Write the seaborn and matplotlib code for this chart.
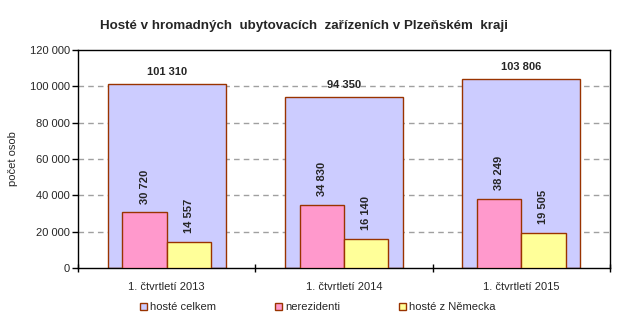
import matplotlib
matplotlib.use("Agg")
import matplotlib.pyplot as plt
import seaborn as sns
import pandas as pd
from matplotlib.patches import Patch
from matplotlib.ticker import FuncFormatter, FixedLocator

categories = ["1. čtvrtletí 2013", "1. čtvrtletí 2014", "1. čtvrtletí 2015"]
hoste_celkem = [101310, 94350, 103806]
nerezidenti = [30720, 34830, 38249]
hoste_nemecko = [14557, 16140, 19505]
series_names = ["hosté celkem", "nerezidenti", "hosté z Německa"]
title = "Hosté v hromadných  ubytovacích  zařízeních v Plzeňském  kraji"
ylabel = "počet osob"

colors = ["#CCCCFF", "#FF99CC", "#FFFF99"]
edge = "#993300"

sns.set_theme(style="white")
plt.rcParams["font.family"] = ["Liberation Sans", "DejaVu Sans"]

fig = plt.figure(figsize=(6.36, 3.24), dpi=100)
ax = fig.add_axes([78/636, 56/324, (610-78)/636, (268-50)/324])

df_total = pd.DataFrame({"cat": categories, "val": hoste_celkem})
df_small = pd.DataFrame({
    "cat": categories * 2,
    "val": nerezidenti + hoste_nemecko,
    "series": [series_names[1]] * 3 + [series_names[2]] * 3,
})

sns.barplot(data=df_total, x="cat", y="val", color=colors[0], width=0.667,
            edgecolor=edge, linewidth=1, saturation=1, ax=ax, zorder=2)
sns.barplot(data=df_small, x="cat", y="val", hue="series",
            palette=colors[1:], width=0.5, dodge=True, edgecolor=edge,
            linewidth=1, saturation=1, ax=ax, zorder=3, legend=False)

fmt = lambda v: f"{int(round(v)):,}".replace(",", " ")

conts = ax.containers
ax.bar_label(conts[0], labels=[fmt(v) for v in hoste_celkem], padding=5,
             fontsize=8, fontweight="bold", zorder=5)
ax.bar_label(conts[1], labels=[fmt(v) for v in nerezidenti], padding=6,
             fontsize=8, fontweight="bold", rotation=90, zorder=5)
ax.bar_label(conts[2], labels=[fmt(v) for v in hoste_nemecko], padding=6,
             fontsize=8, fontweight="bold", rotation=90, zorder=5)

ax.set_xlim(-0.5, 2.5)
ax.set_ylim(0, 120000)
ax.set_yticks(range(0, 120001, 20000))
ax.yaxis.set_major_formatter(FuncFormatter(lambda v, p: fmt(v)))
ax.set_xlabel("")
ax.set_ylabel(ylabel, fontsize=8, labelpad=8)

for y in range(20000, 120000, 20000):
    ax.axhline(y, color="#A0A0A0", lw=1, ls=(0, (4, 3)), zorder=1)

ax.tick_params(axis="y", which="major", direction="out", length=4, width=1,
               labelsize=8, left=True, pad=2, color="black")
ax.tick_params(axis="x", which="major", length=0, labelsize=8, pad=10)
ax.xaxis.set_minor_locator(FixedLocator([-0.5, 0.5, 1.5, 2.5]))
ax.tick_params(axis="x", which="minor", direction="inout", length=6, width=1,
               bottom=True, color="black")

for s in ax.spines.values():
    s.set_color("black")
    s.set_linewidth(1)
    s.set_visible(True)

fig.text(304/636, 1 - 26/324, title, ha="center", va="center",
         fontsize=9.6, fontweight="bold")

handles = [Patch(facecolor=c, edgecolor=edge, linewidth=1) for c in colors]
fig.legend(handles, series_names, loc="center", bbox_to_anchor=(318/636, 1 - 307/324),
           ncol=3, frameon=False, fontsize=8, handlelength=0.6, handleheight=0.6,
           handletextpad=0.3, columnspacing=5.3, borderpad=0)

fig.savefig("out.png", dpi=100)
